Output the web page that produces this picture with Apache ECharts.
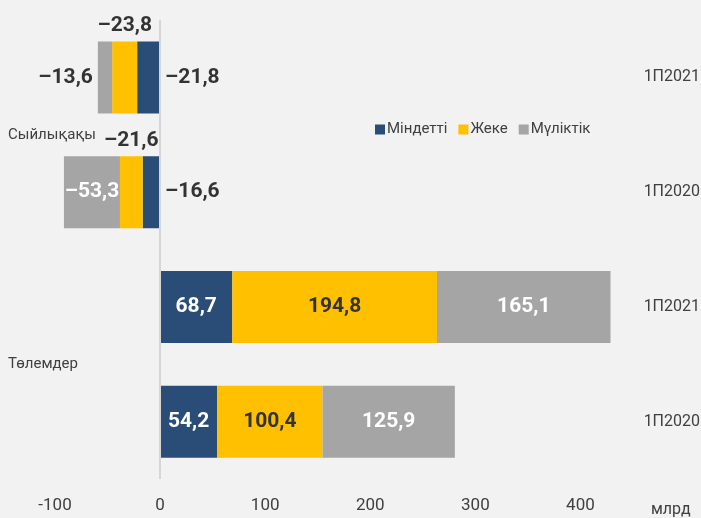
<!DOCTYPE html>
<html>
<head>
<meta charset="UTF-8">
<title>Сыйлықақы / Төлемдер</title>
<script src="https://cdn.jsdelivr.net/npm/echarts@6/dist/echarts.min.js"></script>
<style>
	html, body { margin: 0; padding: 0; background: #f2f2f2; }
	#main { width: 701px; height: 518px; }
</style>
</head>
<body>
<div id="main"></div>
<script type="text/javascript">
	// rows from top to bottom
	var groups = ['Сыйлықақы', 'Төлемдер'];
	var periods = ['1П2021', '1П2020', '1П2021', '1П2020'];
	var seriesNames = ['Міндетті', 'Жеке', 'Мүліктік'];
	var mandatory = [-21.8, -16.6, 68.7, 54.2];
	var personal = [-23.8, -21.6, 194.8, 100.4];
	var property = [-13.6, -53.3, 165.1, 125.9];
	var xTicks = [-100, 0, 100, 200, 300, 400];
	var unitName = 'млрд';

	var colors = ['#2a4d78', '#ffc000', '#a5a5a5'];
	var dark = '#333333';
	var font = 'Roboto, sans-serif';

	// row keys must be unique for the category axis
	var rowKeys = periods.map(function(p, i) { return i + '|' + p; });

	function fmt(v) {
		return String(v).replace('.', ',').replace('-', '–');
	}

	// label placement for each series, per row (negative rows sit outside the bars)
	var labelPos = [
		['right', 'right', 'inside', 'inside'],
		['top', 'top', 'inside', 'inside'],
		['left', 'inside', 'inside', 'inside']
	];
	var labelColor = [
		[dark, dark, '#fff', '#fff'],
		[dark, dark, dark, dark],
		[dark, '#fff', '#fff', '#fff']
	];

	function buildSeries(idx, values) {
		var s = {
			name: seriesNames[idx],
			type: 'bar',
			stack: 'total',
			barWidth: 72,
			yAxisIndex: 0,
			itemStyle: { color: colors[idx] },
			data: values.map(function(v, i) {
				return {
					value: v,
					label: {
						show: true,
						position: labelPos[idx][i],
						distance: 5,
						color: labelColor[idx][i],
						fontFamily: font,
						fontWeight: 'bold',
						fontSize: 21,
						formatter: function(p) { return fmt(p.value); }
					}
				};
			})
		};
		if (idx == 0) {
			s.markLine = {
				silent: true,
				symbol: 'none',
				label: { show: false },
				lineStyle: { color: '#d6d6d6', type: 'solid', width: 2 },
				data: [{ xAxis: 0 }]
			};
		}
		return s;
	}

	var option = {
		backgroundColor: '#f2f2f2',
		animation: false,
		grid: { left: 55, right: 68, top: 20, bottom: 39, containLabel: false, outerBoundsMode: 'none' },
		legend: {
			left: 375,
			top: 122,
			padding: 0,
			itemWidth: 10,
			itemHeight: 10,
			itemGap: 11,
			icon: 'rect',
			data: seriesNames,
			textStyle: { fontFamily: font, fontSize: 15, color: '#404040', padding: [0, 0, 0, -3] }
		},
		xAxis: {
			type: 'value',
			min: xTicks[0],
			max: 450,
			interval: 100,
			axisLine: { show: false },
			axisTick: { show: false },
			splitLine: { show: false },
			axisLabel: {
				margin: 18,
				showMaxLabel: false,
				fontFamily: font,
				fontSize: 17,
				color: '#404040',
				formatter: function(v) { return xTicks.indexOf(v) >= 0 ? String(v) : ''; }
			}
		},
		yAxis: [{
			type: 'category',
			position: 'right',
			inverse: true,
			data: rowKeys,
			axisLine: { show: false },
			axisTick: { show: false },
			axisLabel: {
				margin: 67,
				align: 'right',
				fontFamily: font,
				fontSize: 16,
				color: '#404040',
				formatter: function(v) { return v.split('|')[1]; }
			}
		}, {
			type: 'category',
			position: 'left',
			inverse: true,
			data: groups,
			axisLine: { show: false },
			axisTick: { show: false },
			axisLabel: {
				margin: 47,
				align: 'left',
				fontFamily: font,
				fontSize: 15,
				color: '#404040'
			}
		}],
		graphic: [{
			type: 'text',
			left: 651,
			top: 502,
			style: { text: unitName, font: '16px ' + font, fill: '#404040' }
		}],
		series: [
			buildSeries(0, mandatory),
			buildSeries(1, personal),
			buildSeries(2, property)
		]
	};

	var myChart = echarts.init(document.getElementById('main'));
	myChart.setOption(option);
</script>
</body>
</html>
